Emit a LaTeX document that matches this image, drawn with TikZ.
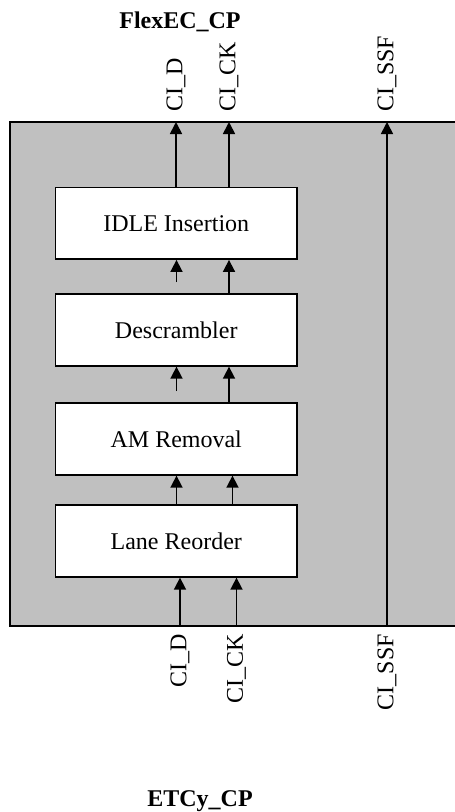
\documentclass[tikz,border=0pt]{standalone}
\usepackage{fontspec}
\setmainfont{Liberation Serif}
\usetikzlibrary{arrows.meta}
\definecolor{panelgray}{RGB}{192,192,192}
\tikzset{
  blockbox/.style={draw=black, line width=1.8pt, fill=white, minimum width=241.5pt, minimum height=71.5pt, inner sep=0pt, font=\fontsize{24}{28}\selectfont},
  sig/.style={line width=1.7pt, -{Triangle[length=12pt,width=12pt]}},
  siglabel/.style={rotate=90, inner sep=0pt, font=\fontsize{24}{28}\selectfont},
  ttl/.style={inner sep=0pt, font=\fontsize{24}{28}\selectfont\bfseries}
}
\begin{document}
\begin{tikzpicture}[x=1pt,y=-1pt]
\clip (0,0) rectangle (455,812);
\fill[white] (0,0) rectangle (455,812);
% panel
\draw[line width=1.8pt, fill=panelgray] (10,626) -- (10,122) -- (470,122) -- (470,626) -- cycle;
\coordinate (ptopD) at (176,122);
\coordinate (ptopK) at (229,122);
\coordinate (ptopS) at (387,122);
\coordinate (pbotD) at (180,626);
\coordinate (pbotK) at (236.5,626);
\coordinate (pbotS) at (387,626);
% blocks
\node[blockbox] (idle) at (176.25,223.25) {IDLE Insertion};
\node[blockbox] (desc) at (176.25,330) {Descrambler};
\node[blockbox] (am)   at (176.25,439) {AM Removal};
\node[blockbox] (lane) at (176.25,541) {Lane Reorder};
% outputs
\draw[sig] (idle.north -| ptopD) -- (ptopD);
\draw[sig] (idle.north -| ptopK) -- (ptopK);
\draw[sig] (pbotS) -- (ptopS);
% between blocks
\coordinate (c1) at (176.5,282);
\draw[sig] (c1) -- (idle.south -| c1);
\coordinate (c2) at (229,294);
\draw[sig] (desc.north -| c2) -- (idle.south -| c2);
\coordinate (c3) at (176.5,391);
\draw[sig] (c3) -- (desc.south -| c3);
\coordinate (c4) at (229,403);
\draw[sig] (am.north -| c4) -- (desc.south -| c4);
\coordinate (c5) at (176.5,505);
\draw[sig] (lane.north -| c5) -- (am.south -| c5);
\coordinate (c6) at (232.5,505);
\draw[sig] (lane.north -| c6) -- (am.south -| c6);
% inputs
\draw[sig] (pbotD) -- (lane.south -| pbotD);
\draw[sig] (pbotK) -- (lane.south -| pbotK);
% labels
\node[siglabel, anchor=west] (lt1) at (176,112) {CI\_D};
\node[siglabel, anchor=west] (lt2) at (229,112) {CI\_CK};
\node[siglabel, anchor=west] (lt3) at (387,112) {CI\_SSF};
\node[siglabel, anchor=east] (lb1) at (180,634) {CI\_D};
\node[siglabel, anchor=east] (lb2) at (236.5,634) {CI\_CK};
\node[siglabel, anchor=east] (lb3) at (387,634) {CI\_SSF};
\node[ttl] (top) at (180,22) {FlexEC\_CP};
\node[ttl] (bot) at (200,801) {ETCy\_CP};
\end{tikzpicture}
\end{document}
